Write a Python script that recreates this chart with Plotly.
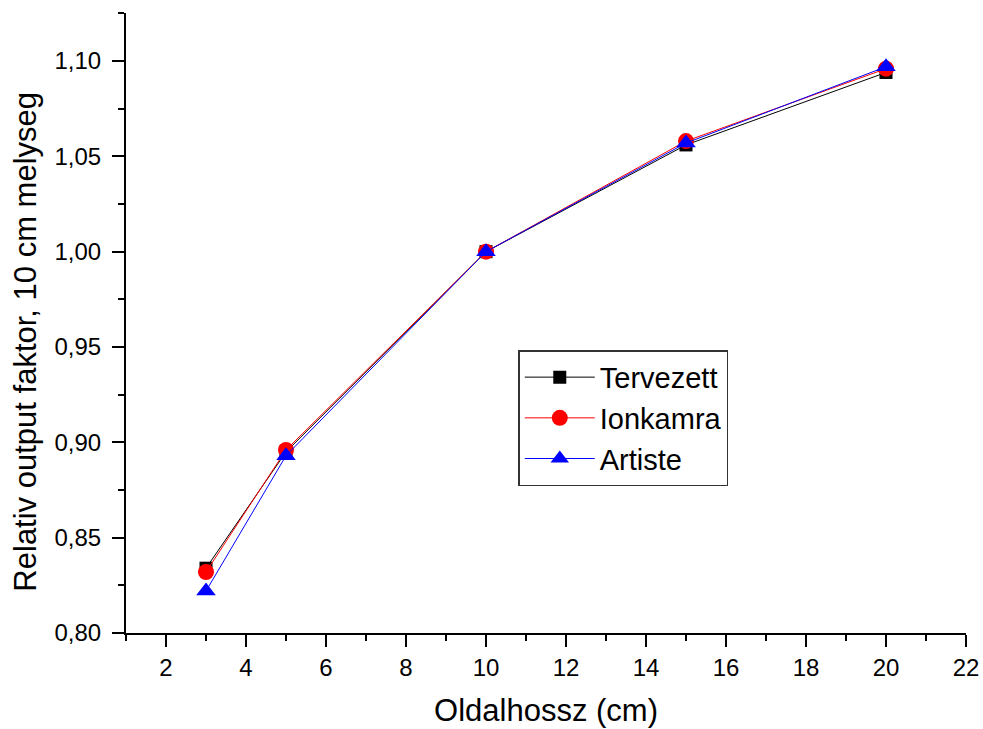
import plotly.graph_objects as go

# Field size (side length, cm)
oldalhossz = [3, 5, 10, 15, 20]

# Relative output factor at 10 cm depth
tervezett = [0.834, 0.895, 1.000, 1.056, 1.094]
ionkamra = [0.832, 0.896, 1.000, 1.058, 1.096]
artiste = [0.822, 0.893, 1.000, 1.057, 1.097]

x_ticks = [2, 4, 6, 8, 10, 12, 14, 16, 18, 20, 22]
y_ticks = [0.80, 0.85, 0.90, 0.95, 1.00, 1.05, 1.10]

FONT = "Arial, Liberation Sans, sans-serif"

fig = go.Figure()
fig.add_trace(go.Scatter(
    x=oldalhossz, y=tervezett, name="Tervezett", mode="lines+markers",
    line=dict(color="black", width=1),
    marker=dict(symbol="square", size=13, color="black"),
))
fig.add_trace(go.Scatter(
    x=oldalhossz, y=ionkamra, name="Ionkamra", mode="lines+markers",
    line=dict(color="red", width=1),
    marker=dict(symbol="circle", size=16, color="red"),
))
fig.add_trace(go.Scatter(
    x=oldalhossz, y=artiste, name="Artiste", mode="lines+markers",
    line=dict(color="blue", width=1),
    marker=dict(symbol="triangle-up", size=17, color="blue"),
))

axis_common = dict(
    showline=True, linecolor="black", linewidth=2, automargin=False,
    ticks="outside", ticklen=12, tickwidth=2, tickcolor="black",
    showgrid=False, zeroline=False, mirror=False,
    tickfont=dict(family=FONT, size=24, color="black"),
)

fig.update_xaxes(
    range=[1, 22], tickvals=x_ticks,
    minor=dict(ticks="outside", ticklen=6, tickwidth=2, tickcolor="black", dtick=1, tick0=1),
    title=dict(text="Oldalhossz (cm)", font=dict(family=FONT, size=31, color="black"), standoff=20),
    **axis_common,
)
fig.update_yaxes(
    range=[0.80, 1.1252], tickvals=y_ticks, tickformat=".2f",
    ticklabelstandoff=6,
    minor=dict(ticks="outside", ticklen=6, tickwidth=2, tickcolor="black", dtick=0.025, tick0=0.8),
    **axis_common,
)

# y-axis title placed as a rotated annotation
fig.add_annotation(
    text="Relativ output faktor, 10 cm melyseg",
    xref="paper", yref="paper", x=-0.119, y=0.47,
    xanchor="center", yanchor="middle", textangle=-90, showarrow=False,
    font=dict(family=FONT, size=31, color="black"),
)

fig.update_layout(
    width=983, height=729,
    margin=dict(l=126, r=17, t=13, b=96),
    paper_bgcolor="white", plot_bgcolor="white",
    separators=",.",
    showlegend=True,
    legend=dict(
        x=0.467, y=0.456, xanchor="left", yanchor="top",
        bgcolor="white", bordercolor="#333333", borderwidth=1.5,
        font=dict(family=FONT, size=29, color="black"),
        itemwidth=70, tracegroupgap=0,
    ),
)

fig.write_html("out.html")
